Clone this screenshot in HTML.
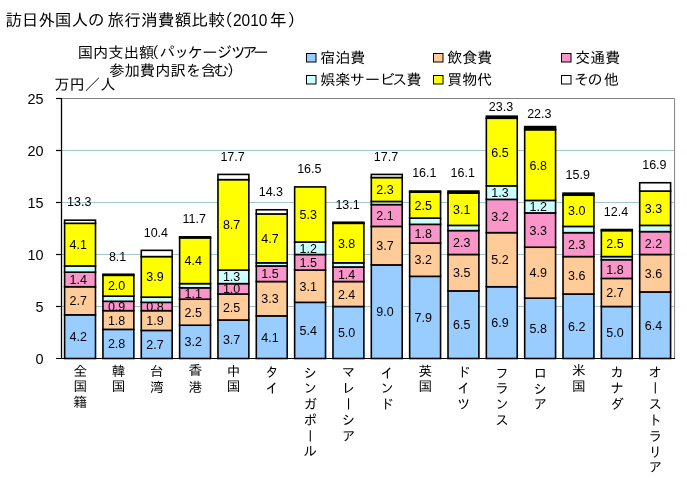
<!DOCTYPE html>
<html lang="ja">
<head>
<meta charset="utf-8">
<title>訪日外国人の旅行消費額比較(2010年)</title>
<style>
html,body{margin:0;padding:0;background:#fff;}
body{width:687px;height:487px;position:relative;overflow:hidden;font-family:"Liberation Sans","IPAGothic","Noto Sans CJK JP",sans-serif;color:#000;}
svg{position:absolute;left:0;top:0;display:block;}
svg text{font-family:"Liberation Sans","IPAGothic","Noto Sans CJK JP",sans-serif;fill:#000;}
.jp{font-family:"Liberation Sans","IPAGothic","Noto Sans CJK JP",sans-serif;}
.cat{position:absolute;top:364.4px;width:20px;margin-left:-10.8px;writing-mode:vertical-rl;text-orientation:upright;font-family:"Liberation Sans","IPAGothic","Noto Sans CJK JP",sans-serif;font-size:13.6px;line-height:20px;letter-spacing:2.25px;white-space:nowrap;}
</style>
</head>
<body>
<svg width="687" height="487" viewBox="0 0 687 487">
<rect x="0" y="0" width="687" height="487" fill="#ffffff"/>
<path d="M61.5 98.5H674.6V358.5" fill="none" stroke="#808080" stroke-width="1"/>
<line x1="62" x2="674" y1="306.5" y2="306.5" stroke="#a3c6cc" stroke-width="1"/>
<line x1="62" x2="674" y1="254.5" y2="254.5" stroke="#a3c6cc" stroke-width="1"/>
<line x1="62" x2="674" y1="202.5" y2="202.5" stroke="#a3c6cc" stroke-width="1"/>
<line x1="62" x2="674" y1="150.5" y2="150.5" stroke="#a3c6cc" stroke-width="1"/>
<g stroke="#000" stroke-width="1.6">
<rect x="64.60" y="314.82" width="30.90" height="43.68" fill="#99ccff"/>
<rect x="64.60" y="286.74" width="30.90" height="28.08" fill="#ffcc99"/>
<rect x="64.60" y="272.18" width="30.90" height="14.56" fill="#f995c8"/>
<rect x="64.60" y="265.94" width="30.90" height="6.24" fill="#ccffff"/>
<rect x="64.60" y="223.30" width="30.90" height="42.64" fill="#ffff00"/>
<rect x="64.60" y="220.18" width="30.90" height="3.12" fill="#ffffff"/>
</g>
<g stroke="#000" stroke-width="1.6">
<rect x="102.94" y="329.38" width="30.90" height="29.12" fill="#99ccff"/>
<rect x="102.94" y="310.66" width="30.90" height="18.72" fill="#ffcc99"/>
<rect x="102.94" y="301.30" width="30.90" height="9.36" fill="#f995c8"/>
<rect x="102.94" y="296.10" width="30.90" height="5.20" fill="#ccffff"/>
<rect x="102.94" y="275.30" width="30.90" height="20.80" fill="#ffff00"/>
<rect x="102.94" y="274.26" width="30.90" height="1.04" fill="#000000"/>
</g>
<g stroke="#000" stroke-width="1.6">
<rect x="141.28" y="330.42" width="30.90" height="28.08" fill="#99ccff"/>
<rect x="141.28" y="310.66" width="30.90" height="19.76" fill="#ffcc99"/>
<rect x="141.28" y="302.34" width="30.90" height="8.32" fill="#f995c8"/>
<rect x="141.28" y="297.14" width="30.90" height="5.20" fill="#ccffff"/>
<rect x="141.28" y="256.58" width="30.90" height="40.56" fill="#ffff00"/>
<rect x="141.28" y="250.34" width="30.90" height="6.24" fill="#ffffff"/>
</g>
<g stroke="#000" stroke-width="1.6">
<rect x="179.62" y="325.22" width="30.90" height="33.28" fill="#99ccff"/>
<rect x="179.62" y="299.22" width="30.90" height="26.00" fill="#ffcc99"/>
<rect x="179.62" y="287.78" width="30.90" height="11.44" fill="#f995c8"/>
<rect x="179.62" y="283.62" width="30.90" height="4.16" fill="#ccffff"/>
<rect x="179.62" y="237.86" width="30.90" height="45.76" fill="#ffff00"/>
<rect x="179.62" y="236.82" width="30.90" height="1.04" fill="#000000"/>
</g>
<g stroke="#000" stroke-width="1.6">
<rect x="217.96" y="320.02" width="30.90" height="38.48" fill="#99ccff"/>
<rect x="217.96" y="294.02" width="30.90" height="26.00" fill="#ffcc99"/>
<rect x="217.96" y="283.62" width="30.90" height="10.40" fill="#f995c8"/>
<rect x="217.96" y="270.10" width="30.90" height="13.52" fill="#ccffff"/>
<rect x="217.96" y="179.62" width="30.90" height="90.48" fill="#ffff00"/>
<rect x="217.96" y="174.42" width="30.90" height="5.20" fill="#ffffff"/>
</g>
<g stroke="#000" stroke-width="1.6">
<rect x="256.30" y="315.86" width="30.90" height="42.64" fill="#99ccff"/>
<rect x="256.30" y="281.54" width="30.90" height="34.32" fill="#ffcc99"/>
<rect x="256.30" y="265.94" width="30.90" height="15.60" fill="#f995c8"/>
<rect x="256.30" y="262.82" width="30.90" height="3.12" fill="#ccffff"/>
<rect x="256.30" y="213.94" width="30.90" height="48.88" fill="#ffff00"/>
<rect x="256.30" y="209.78" width="30.90" height="4.16" fill="#ffffff"/>
</g>
<g stroke="#000" stroke-width="1.6">
<rect x="294.64" y="302.34" width="30.90" height="56.16" fill="#99ccff"/>
<rect x="294.64" y="270.10" width="30.90" height="32.24" fill="#ffcc99"/>
<rect x="294.64" y="254.50" width="30.90" height="15.60" fill="#f995c8"/>
<rect x="294.64" y="242.02" width="30.90" height="12.48" fill="#ccffff"/>
<rect x="294.64" y="186.90" width="30.90" height="55.12" fill="#ffff00"/>
</g>
<g stroke="#000" stroke-width="1.6">
<rect x="332.98" y="306.50" width="30.90" height="52.00" fill="#99ccff"/>
<rect x="332.98" y="281.54" width="30.90" height="24.96" fill="#ffcc99"/>
<rect x="332.98" y="266.98" width="30.90" height="14.56" fill="#f995c8"/>
<rect x="332.98" y="262.82" width="30.90" height="4.16" fill="#ccffff"/>
<rect x="332.98" y="223.30" width="30.90" height="39.52" fill="#ffff00"/>
<rect x="332.98" y="222.26" width="30.90" height="1.04" fill="#000000"/>
</g>
<g stroke="#000" stroke-width="1.6">
<rect x="371.32" y="264.90" width="30.90" height="93.60" fill="#99ccff"/>
<rect x="371.32" y="226.42" width="30.90" height="38.48" fill="#ffcc99"/>
<rect x="371.32" y="204.58" width="30.90" height="21.84" fill="#f995c8"/>
<rect x="371.32" y="201.46" width="30.90" height="3.12" fill="#ccffff"/>
<rect x="371.32" y="177.54" width="30.90" height="23.92" fill="#ffff00"/>
<rect x="371.32" y="174.42" width="30.90" height="3.12" fill="#ffffff"/>
</g>
<g stroke="#000" stroke-width="1.6">
<rect x="409.66" y="276.34" width="30.90" height="82.16" fill="#99ccff"/>
<rect x="409.66" y="243.06" width="30.90" height="33.28" fill="#ffcc99"/>
<rect x="409.66" y="224.34" width="30.90" height="18.72" fill="#f995c8"/>
<rect x="409.66" y="218.10" width="30.90" height="6.24" fill="#ccffff"/>
<rect x="409.66" y="192.10" width="30.90" height="26.00" fill="#ffff00"/>
<rect x="409.66" y="191.06" width="30.90" height="1.04" fill="#000000"/>
</g>
<g stroke="#000" stroke-width="1.6">
<rect x="448.00" y="290.90" width="30.90" height="67.60" fill="#99ccff"/>
<rect x="448.00" y="254.50" width="30.90" height="36.40" fill="#ffcc99"/>
<rect x="448.00" y="230.58" width="30.90" height="23.92" fill="#f995c8"/>
<rect x="448.00" y="225.38" width="30.90" height="5.20" fill="#ccffff"/>
<rect x="448.00" y="193.14" width="30.90" height="32.24" fill="#ffff00"/>
<rect x="448.00" y="191.06" width="30.90" height="2.08" fill="#000000"/>
</g>
<g stroke="#000" stroke-width="1.6">
<rect x="486.34" y="286.74" width="30.90" height="71.76" fill="#99ccff"/>
<rect x="486.34" y="232.66" width="30.90" height="54.08" fill="#ffcc99"/>
<rect x="486.34" y="199.38" width="30.90" height="33.28" fill="#f995c8"/>
<rect x="486.34" y="185.86" width="30.90" height="13.52" fill="#ccffff"/>
<rect x="486.34" y="118.26" width="30.90" height="67.60" fill="#ffff00"/>
<rect x="486.34" y="116.18" width="30.90" height="2.08" fill="#000000"/>
</g>
<g stroke="#000" stroke-width="1.6">
<rect x="524.68" y="298.18" width="30.90" height="60.32" fill="#99ccff"/>
<rect x="524.68" y="247.22" width="30.90" height="50.96" fill="#ffcc99"/>
<rect x="524.68" y="212.90" width="30.90" height="34.32" fill="#f995c8"/>
<rect x="524.68" y="200.42" width="30.90" height="12.48" fill="#ccffff"/>
<rect x="524.68" y="129.70" width="30.90" height="70.72" fill="#ffff00"/>
<rect x="524.68" y="126.58" width="30.90" height="3.12" fill="#000000"/>
</g>
<g stroke="#000" stroke-width="1.6">
<rect x="563.02" y="294.02" width="30.90" height="64.48" fill="#99ccff"/>
<rect x="563.02" y="256.58" width="30.90" height="37.44" fill="#ffcc99"/>
<rect x="563.02" y="232.66" width="30.90" height="23.92" fill="#f995c8"/>
<rect x="563.02" y="226.42" width="30.90" height="6.24" fill="#ccffff"/>
<rect x="563.02" y="195.22" width="30.90" height="31.20" fill="#ffff00"/>
<rect x="563.02" y="193.14" width="30.90" height="2.08" fill="#000000"/>
</g>
<g stroke="#000" stroke-width="1.6">
<rect x="601.36" y="306.50" width="30.90" height="52.00" fill="#99ccff"/>
<rect x="601.36" y="278.42" width="30.90" height="28.08" fill="#ffcc99"/>
<rect x="601.36" y="259.70" width="30.90" height="18.72" fill="#f995c8"/>
<rect x="601.36" y="256.58" width="30.90" height="3.12" fill="#ccffff"/>
<rect x="601.36" y="230.58" width="30.90" height="26.00" fill="#ffff00"/>
<rect x="601.36" y="229.54" width="30.90" height="1.04" fill="#000000"/>
</g>
<g stroke="#000" stroke-width="1.6">
<rect x="639.70" y="291.94" width="30.90" height="66.56" fill="#99ccff"/>
<rect x="639.70" y="254.50" width="30.90" height="37.44" fill="#ffcc99"/>
<rect x="639.70" y="231.62" width="30.90" height="22.88" fill="#f995c8"/>
<rect x="639.70" y="225.38" width="30.90" height="6.24" fill="#ccffff"/>
<rect x="639.70" y="191.06" width="30.90" height="34.32" fill="#ffff00"/>
<rect x="639.70" y="182.74" width="30.90" height="8.32" fill="#ffffff"/>
</g>
<line x1="61.5" x2="61.5" y1="98" y2="359" stroke="#000" stroke-width="1.3"/>
<line x1="56" x2="675" y1="358.5" y2="358.5" stroke="#000" stroke-width="1.2"/>
<line x1="56" x2="62" y1="306.5" y2="306.5" stroke="#000" stroke-width="1.2"/>
<line x1="56" x2="62" y1="254.5" y2="254.5" stroke="#000" stroke-width="1.2"/>
<line x1="56" x2="62" y1="202.5" y2="202.5" stroke="#000" stroke-width="1.2"/>
<line x1="56" x2="62" y1="150.5" y2="150.5" stroke="#000" stroke-width="1.2"/>
<line x1="56" x2="62" y1="98.5" y2="98.5" stroke="#000" stroke-width="1.2"/>
<g font-size="14.4" text-anchor="end">
<text x="43.5" y="363.5">0</text>
<text x="43.5" y="311.5">5</text>
<text x="43.5" y="259.5">10</text>
<text x="43.5" y="207.5">15</text>
<text x="43.5" y="155.5">20</text>
<text x="43.5" y="103.5">25</text>
</g>
<g font-size="12.5" text-anchor="middle">
<text x="78.2" y="341.2">4.2</text>
<text x="78.2" y="305.3">2.7</text>
<text x="78.2" y="284.0">1.4</text>
<text x="78.2" y="249.1">4.1</text>
<text x="79.2" y="206.4">13.3</text>
<text x="116.6" y="348.4">2.8</text>
<text x="116.6" y="324.5">1.8</text>
<text x="116.6" y="310.5">0.9</text>
<text x="116.6" y="290.2">2.0</text>
<text x="117.6" y="260.5">8.1</text>
<text x="154.9" y="349.0">2.7</text>
<text x="154.9" y="325.0">1.9</text>
<text x="154.9" y="311.0">0.8</text>
<text x="154.9" y="281.4">3.9</text>
<text x="155.9" y="236.5">10.4</text>
<text x="193.3" y="346.4">3.2</text>
<text x="193.3" y="316.7">2.5</text>
<text x="193.3" y="298.0">1.1</text>
<text x="193.3" y="265.2">4.4</text>
<text x="194.3" y="223.0">11.7</text>
<text x="231.6" y="343.8">3.7</text>
<text x="231.6" y="311.5">2.5</text>
<text x="231.6" y="293.3">1.0</text>
<text x="231.6" y="281.4">1.3</text>
<text x="231.6" y="229.4">8.7</text>
<text x="232.6" y="160.6">17.7</text>
<text x="269.9" y="341.7">4.1</text>
<text x="269.9" y="303.2">3.3</text>
<text x="269.9" y="278.2">1.5</text>
<text x="269.9" y="242.9">4.7</text>
<text x="270.9" y="196.0">14.3</text>
<text x="308.3" y="334.9">5.4</text>
<text x="308.3" y="290.7">3.1</text>
<text x="308.3" y="266.8">1.5</text>
<text x="308.3" y="252.8">1.2</text>
<text x="308.3" y="219.0">5.3</text>
<text x="309.3" y="173.1">16.5</text>
<text x="346.6" y="337.0">5.0</text>
<text x="346.6" y="298.5">2.4</text>
<text x="346.6" y="278.8">1.4</text>
<text x="346.6" y="247.6">3.8</text>
<text x="347.6" y="208.5">13.1</text>
<text x="385.0" y="316.2">9.0</text>
<text x="385.0" y="250.2">3.7</text>
<text x="385.0" y="220.0">2.1</text>
<text x="385.0" y="194.0">2.3</text>
<text x="386.0" y="160.6">17.7</text>
<text x="423.3" y="321.9">7.9</text>
<text x="423.3" y="264.2">3.2</text>
<text x="423.3" y="238.2">1.8</text>
<text x="423.3" y="209.6">2.5</text>
<text x="424.3" y="177.3">16.1</text>
<text x="461.7" y="329.2">6.5</text>
<text x="461.7" y="277.2">3.5</text>
<text x="461.7" y="247.0">2.3</text>
<text x="461.7" y="213.8">3.1</text>
<text x="462.7" y="177.3">16.1</text>
<text x="500.0" y="327.1">6.9</text>
<text x="500.0" y="264.2">5.2</text>
<text x="500.0" y="220.5">3.2</text>
<text x="500.0" y="197.1">1.3</text>
<text x="500.0" y="156.6">6.5</text>
<text x="501.0" y="110.7">23.3</text>
<text x="538.3" y="332.8">5.8</text>
<text x="538.3" y="277.2">4.9</text>
<text x="538.3" y="234.6">3.3</text>
<text x="538.3" y="211.2">1.2</text>
<text x="538.3" y="169.6">6.8</text>
<text x="539.3" y="118.1">22.3</text>
<text x="576.7" y="330.8">6.2</text>
<text x="576.7" y="279.8">3.6</text>
<text x="576.7" y="249.1">2.3</text>
<text x="576.7" y="215.3">3.0</text>
<text x="577.7" y="179.3">15.9</text>
<text x="615.0" y="337.0">5.0</text>
<text x="615.0" y="297.0">2.7</text>
<text x="615.0" y="273.6">1.8</text>
<text x="615.0" y="248.1">2.5</text>
<text x="616.0" y="215.7">12.4</text>
<text x="653.4" y="329.7">6.4</text>
<text x="653.4" y="277.7">3.6</text>
<text x="653.4" y="247.6">2.2</text>
<text x="653.4" y="212.7">3.3</text>
<text x="654.4" y="168.9">16.9</text>
</g>
<g class="jp" font-size="16.7" text-anchor="middle">
<text y="26" x="13.8 30.2 46.8 63.2 79.8 96.2 115.8 132.6 149.3 166.2 183.0 199.8 216.6">訪日外国人の旅行消費額比較</text>
<text y="26" x="233" text-anchor="end">（</text>
<text y="26" x="278">年</text>
<text y="26" x="287.5" text-anchor="start">）</text>
</g>
<text x="250.2" y="26" font-size="16.5" text-anchor="middle" textLength="34.5" lengthAdjust="spacingAndGlyphs">2010</text>
<g class="jp" font-size="15.3" text-anchor="middle">
<text y="57.6" x="85.4 100.7 116.0 131.3 146.6">国内支出額</text>
<text y="57.6" x="159" text-anchor="end">（</text>
<text y="57.6" x="167.5 182.0 195.2 210.0 224.4 238.4 250.0 261.0">パッケージツアー</text>
<text y="75.8" x="116.9 132.2 147.5 162.8 178.1 193.4 208.7 221.5">参加費内訳を含む</text>
<text y="75.8" x="227" text-anchor="start">）</text>
<text y="90" x="61.9 77.2 92.5 107.8">万円／人</text>
</g>
<g class="jp" font-size="15" text-anchor="middle">
<rect x="306.5" y="53.5" width="9.5" height="8.5" fill="#99ccff" stroke="#000" stroke-width="1"/>
<text y="63.2" x="327.7 342.7 357.7">宿泊費</text>
<rect x="433.5" y="53.5" width="9.5" height="8.5" fill="#ffcc99" stroke="#000" stroke-width="1"/>
<text y="63.2" x="454.7 469.7 484.7">飲食費</text>
<rect x="561.5" y="53.5" width="9.5" height="8.5" fill="#f995c8" stroke="#000" stroke-width="1"/>
<text y="63.2" x="582.7 597.7 612.7">交通費</text>
<rect x="306.5" y="75.5" width="9.5" height="8.5" fill="#ccffff" stroke="#000" stroke-width="1"/>
<text y="85.2" x="327.7 342.7 357.3 372.5 387.2 399.8 414.0">娯楽サービス費</text>
<rect x="433.5" y="75.5" width="9.5" height="8.5" fill="#ffff00" stroke="#000" stroke-width="1"/>
<text y="85.2" x="454.7 469.7 484.7">買物代</text>
<rect x="561.5" y="75.5" width="9.5" height="8.5" fill="#ffffff" stroke="#000" stroke-width="1"/>
<text y="85.2" x="581.5 595.0 611.5">その他</text>
</g>
</svg>
<div class="cat" style="left:80.0px;top:362.8px">全国籍</div>
<div class="cat" style="left:118.4px;top:362.8px">韓国</div>
<div class="cat" style="left:156.7px;top:362.8px">台湾</div>
<div class="cat" style="left:195.1px;top:362.8px">香港</div>
<div class="cat" style="left:233.4px;top:362.8px">中国</div>
<div class="cat" style="left:271.8px;top:365.0px">タイ</div>
<div class="cat" style="left:310.1px;top:365.0px">シンガポール</div>
<div class="cat" style="left:348.4px;top:365.0px">マレーシア</div>
<div class="cat" style="left:386.8px;top:365.0px">インド</div>
<div class="cat" style="left:425.1px;top:362.8px">英国</div>
<div class="cat" style="left:463.5px;top:365.0px">ドイツ</div>
<div class="cat" style="left:501.8px;top:365.0px">フランス</div>
<div class="cat" style="left:540.1px;top:365.0px">ロシア</div>
<div class="cat" style="left:578.5px;top:362.8px">米国</div>
<div class="cat" style="left:616.8px;top:365.0px">カナダ</div>
<div class="cat" style="left:655.1px;top:365.0px">オーストラリア</div>
</body>
</html>
